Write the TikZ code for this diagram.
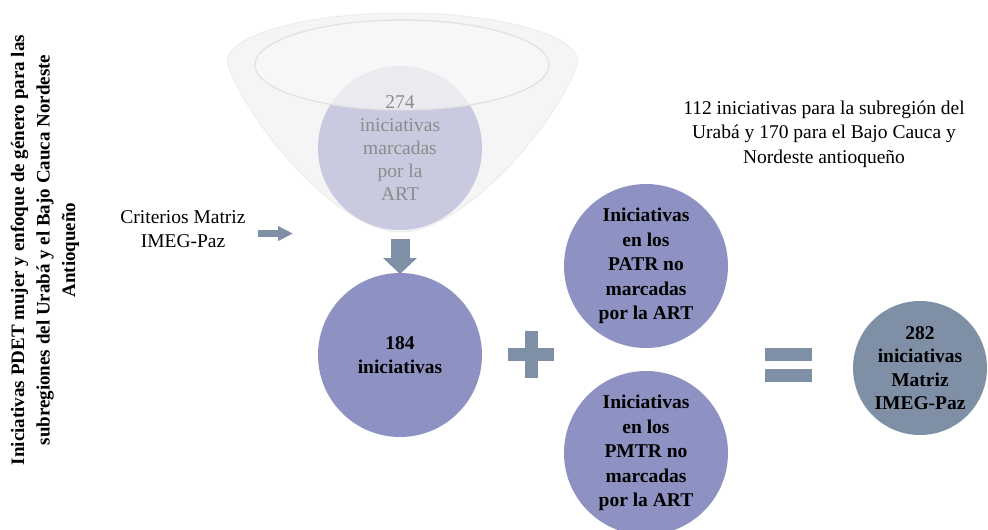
\documentclass[tikz,border=0pt]{standalone}
\usepackage{fontspec}
\setmainfont{Liberation Serif}
\usetikzlibrary{arrows.meta}

\definecolor{lavender}{RGB}{142,146,195}
\definecolor{palelavender}{RGB}{201,202,223}
\definecolor{slateblue}{RGB}{127,143,166}
\definecolor{funnelfill}{RGB}{245,245,245}
\definecolor{funnelline}{RGB}{237,237,237}
\definecolor{fadedtext}{RGB}{140,140,140}

\tikzset{
    bubble/.style={circle, fill=lavender, inner sep=0pt, outer sep=0pt,
        minimum size=164pt, align=center, font=\fontsize{19.5}{24.5}\selectfont\bfseries},
    plaintext/.style={align=center, inner sep=0pt, font=\fontsize{19.5}{23.5}\selectfont},
    blockarrow/.style={draw=slateblue, line width=#1},
}

\begin{document}
\begin{tikzpicture}[x=1pt, y=-1pt]
        \useasboundingbox (0, 0) rectangle (988, 530);

        % funnel
        \draw [fill=funnelfill, draw=funnelline, line width=1pt]
            (227, 62) arc [start angle=180, end angle=0, x radius=175.5pt, y radius=49pt]
            .. controls (560, 120) and (465, 232) .. (401, 232)
            .. controls (337, 232) and (245, 120) .. (227, 62);

        \node [bubble, fill=palelavender, font=\fontsize{19.5}{23}\selectfont] (marked) at (400, 148) {};

        \fill [white, opacity=.55] (402, 65) ellipse [x radius=147pt, y radius=45pt];
        \draw [funnelline!95!black, line width=1.2pt, fill=gray!10, fill opacity=.35] (402, 65) ellipse [x radius=147pt, y radius=45pt];
        \node [align=center, text=fadedtext, font=\fontsize{19.5}{23}\selectfont] at (marked) {274\\iniciativas\\marcadas\\por la\\ART};

        \node [plaintext] (criteria) at (183, 229) {Criterios Matriz\\IMEG-Paz};
        \coordinate (criteriatip) at (293, 233.5);
        \draw [blockarrow=7pt, -{Triangle[width=14pt, length=15pt]}, shorten <=12pt] (criteria.east |- criteriatip) -- (criteriatip);

        \node [bubble] (selected) at (400, 355) {184\\iniciativas};
        \draw [blockarrow=19pt, -{Triangle[width=33pt, length=16pt]}, shorten <=9pt, shorten >=-1pt] (marked) -- (selected);

        % plus
        \fill [slateblue] (525, 331) rectangle (538, 378);
        \fill [slateblue] (508, 348) rectangle (554, 361);

        \node [bubble] (patr) at (646, 266) {Iniciativas\\en los\\PATR no\\marcadas\\por la ART};
        \node [bubble] (pmtr) at (646, 453) {Iniciativas\\en los\\PMTR no\\marcadas\\por la ART};

        % equals
        \fill [slateblue] (765, 348) rectangle (812, 361);
        \fill [slateblue] (765, 369) rectangle (812, 382);

        \node [bubble, fill=slateblue, minimum size=134pt, font=\fontsize{19.5}{23.5}\selectfont\bfseries] (total) at (920, 368) {282\\iniciativas\\Matriz\\IMEG-Paz};

        \node [plaintext, font=\fontsize{19.5}{24.5}\selectfont] (note) at (824, 134) {112 iniciativas para la subregión del\\Urabá y 170 para el Bajo Cauca y\\Nordeste antioqueño};

        \node [rotate=90, align=center, font=\fontsize{19}{25.5}\selectfont\bfseries] (title) at (45, 250)
            {Iniciativas PDET  mujer y enfoque de género para las\\subregiones del Urabá y el Bajo Cauca Nordeste\\Antioqueño};
    \end{tikzpicture}
\end{document}
